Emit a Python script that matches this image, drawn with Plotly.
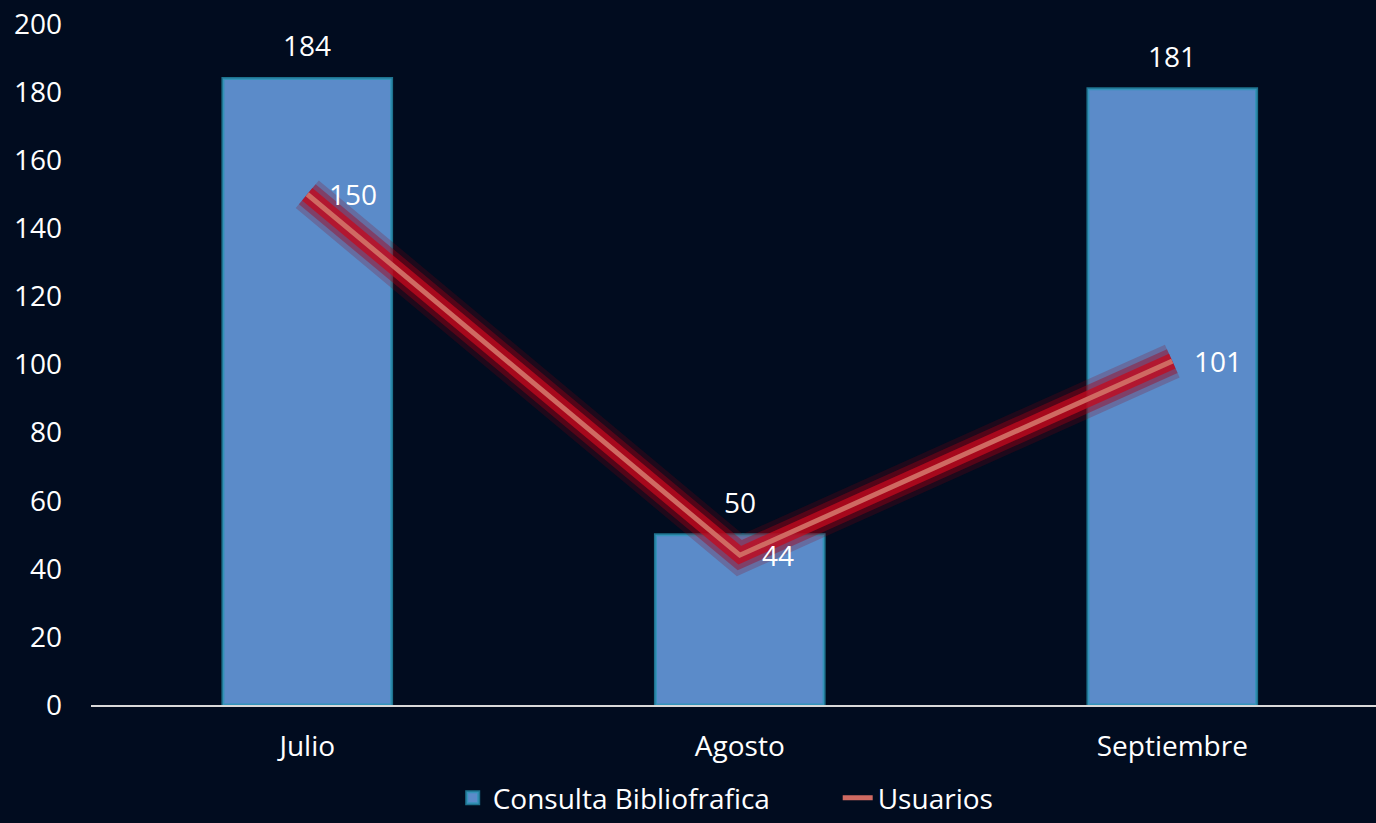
import plotly.graph_objects as go

meses = ["Julio", "Agosto", "Septiembre"]
consultas = [184, 50, 181]
usuarios = [150, 44, 101]

FONT = "Open Sans"
FS = 28
BG = "#010c1f"

fig = go.Figure()
fig.add_bar(
    x=meses, y=consultas, name="Consulta Bibliofrafica",
    marker=dict(color="#5b8bc9", line=dict(color="rgba(40,150,180,0.75)", width=3)),
    width=0.39,
)
# soft red glow under the line
for w, c in [(36, "rgba(140,0,15,0.22)"), (26, "rgba(165,0,20,0.4)"),
             (16, "rgba(195,10,30,0.75)")]:
    fig.add_scatter(
        x=meses, y=usuarios, mode="lines", showlegend=False, hoverinfo="skip",
        line=dict(color=c, width=w),
    )
fig.add_scatter(
    x=meses, y=usuarios, mode="lines", name="Usuarios",
    line=dict(color="#cf6a62", width=5),
)

for m, v in zip(meses, consultas):
    fig.add_annotation(x=m, y=v, text=str(v), showarrow=False,
                       yanchor="bottom", yshift=12,
                       font=dict(color="white", size=FS, family=FONT))
for m, v in zip(meses, usuarios):
    fig.add_annotation(x=m, y=v, text=str(v), showarrow=False,
                       xanchor="left", xshift=20,
                       font=dict(color="white", size=FS, family=FONT))

fig.update_layout(
    width=1376, height=823,
    paper_bgcolor=BG, plot_bgcolor="rgba(0,0,0,0)",
    margin=dict(l=91, r=0, t=24, b=118),
    font=dict(family=FONT, color="white", size=FS),
    showlegend=True,
    legend=dict(
        orientation="h", xref="container", yref="container",
        x=0.329, xanchor="left", y=0.0, yanchor="bottom",
        font=dict(size=FS, color="white", family=FONT),
        bgcolor="rgba(0,0,0,0)", entrywidth=340, entrywidthmode="pixels",
    ),
    xaxis=dict(
        range=[-0.5, 2.471], showgrid=False, showline=True, linecolor="#d9d9d9",
        linewidth=2, ticks="", ticklabelstandoff=15,
        tickfont=dict(size=FS, color="white", family=FONT), zeroline=False,
    ),
    yaxis=dict(
        range=[0, 200], dtick=20, showgrid=False, showline=False, zeroline=False,
        ticks="", ticklabelstandoff=28,
        tickfont=dict(size=FS, color="white", family=FONT),
    ),
)

fig.write_html(
    "out.html",
    config={"displayModeBar": False},
    post_script=f"document.body.style.margin='0';document.body.style.overflow='hidden';"
                f"document.body.style.background='{BG}';",
)
